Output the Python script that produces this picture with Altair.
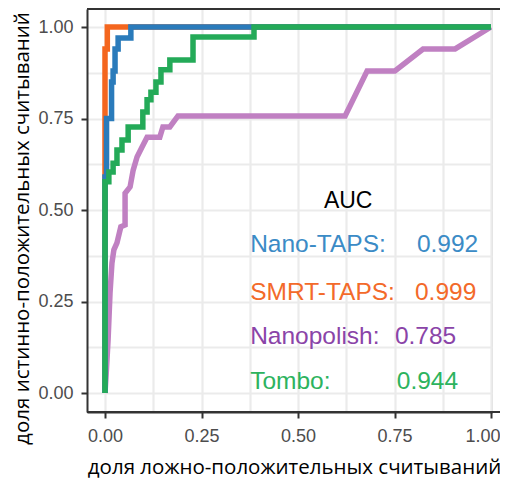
import altair as alt
import pandas as pd

# ---- data ----
series_names = ["SMRT-TAPS", "Nanopolish", "Nano-TAPS", "Tombo"]

smrt_fpr = [0.0, 0.0, 0.006, 0.006, 1.0]
smrt_tpr = [0.0, 0.94, 0.94, 1.0, 1.0]

nano_fpr = [0.0, 0.0, 0.004, 0.004, 0.017, 0.017, 0.021, 0.021, 0.026, 0.026, 0.034, 0.034, 0.067, 0.067, 1.0]
nano_tpr = [0.0, 0.59, 0.59, 0.75, 0.75, 0.85, 0.85, 0.88, 0.88, 0.94, 0.94, 0.97, 0.97, 1.0, 1.0]

polish_fpr = [0.0, 0.003, 0.008, 0.013, 0.018, 0.023, 0.031, 0.041, 0.052, 0.052, 0.065, 0.073, 0.083, 0.096,
              0.109, 0.142, 0.150, 0.168, 0.189, 0.622, 0.679, 0.751, 0.824, 0.907, 1.0]
polish_tpr = [0.0, 0.05, 0.145, 0.273, 0.355, 0.391, 0.41, 0.454, 0.459, 0.546, 0.563, 0.609, 0.645, 0.672,
              0.699, 0.699, 0.727, 0.727, 0.757, 0.757, 0.880, 0.880, 0.940, 0.940, 1.0]

tombo_fpr = [0.0, 0.0, 0.010, 0.010, 0.021, 0.021, 0.031, 0.031, 0.044, 0.044, 0.060, 0.060, 0.098, 0.098,
             0.109, 0.109, 0.119, 0.119, 0.132, 0.132, 0.145, 0.145, 0.168, 0.168, 0.228, 0.228, 0.386, 0.386, 1.0]
tombo_tpr = [0.0, 0.577, 0.577, 0.604, 0.604, 0.628, 0.628, 0.664, 0.664, 0.691, 0.691, 0.727, 0.727, 0.768,
             0.768, 0.801, 0.801, 0.822, 0.822, 0.850, 0.850, 0.883, 0.883, 0.910, 0.910, 0.973, 0.973, 1.0, 1.0]

auc_labels = ["Nano-TAPS:", "SMRT-TAPS:", "Nanopolish:", "Tombo:"]
auc_values = ["0.992", "0.999", "0.785", "0.944"]

tick_values = [0.0, 0.125, 0.25, 0.375, 0.5, 0.625, 0.75, 0.875, 1.0]

# ---- styling ----
line_colors = {"SMRT-TAPS": "#f4661e", "Nanopolish": "#c080c2", "Nano-TAPS": "#2a7bbb", "Tombo": "#24aa58"}
text_colors = ["#3b8bc6", "#f36a2a", "#8a44a8", "#2db35e"]
label_x = [0.376, 0.376, 0.376, 0.376]
value_x = [0.808, 0.803, 0.751, 0.756]
row_y = [0.404, 0.273, 0.153, 0.030]

W, H = 405, 403
PANEL_W = 413  # visible panel frame extends a little past the plot area
xdom = [-18 / 386, (W - 18) / 386]
ydom = [-(403 - 384) / 366, 1 + 18 / 366]

xscale = alt.Scale(domain=xdom, nice=False, zero=False)
yscale = alt.Scale(domain=ydom, nice=False, zero=False)

minor_test = "(datum.value * 4) % 1 != 0"
label_expr = "(datum.value * 4) % 1 == 0 ? format(datum.value, '.2f') : ''"

common_axis = dict(
    values=tick_values,
    labelExpr=label_expr,
    grid=True,
    gridColor="#ebebeb",
    gridWidth=2.2,
    domainColor="#333333",
    domainWidth=2,
    tickColor={"condition": {"test": minor_test, "value": "transparent"}, "value": "#333333"},
    tickWidth=2,
    tickSize=6,
    labelFont="Liberation Sans",
    labelFontSize=18,
    labelColor="#4d4d4d",
    titleFont="Open Sans",
    titleFontSize=20.5,
    titleFontWeight="normal",
    titleColor="#000000",
    labelFlush=False,
)

x_axis = alt.Axis(
    title="доля ложно-положительных считываний",
    labelPadding=9,
    labelAlign={"condition": {"test": "datum.value >= 1", "value": "right"}, "value": "center"},
    labelOffset={"condition": {"test": "datum.value >= 1", "value": 9}, "value": 0},
    titleX=207, titleY=55, titleAlign="center", titleBaseline="middle",
    **common_axis,
)
y_axis = alt.Axis(
    title="доля истинно-положительных считываний",
    labelPadding=8,
    titleX=-65, titleY=219, titleAlign="center", titleBaseline="middle",
    titleAngle=270,
    **common_axis,
)

X = lambda f: alt.X(f, scale=xscale, axis=x_axis)
Y = lambda f: alt.Y(f, scale=yscale, axis=y_axis)


def curve(name, xs, ys):
    df = pd.DataFrame({"fpr": xs, "tpr": ys, "i": list(range(len(xs)))})
    return alt.Chart(df).mark_line(color=line_colors[name], strokeWidth=5.5, clip=True,
                                   strokeCap="butt", strokeJoin="miter").encode(
        x=X("fpr:Q"), y=Y("tpr:Q"), order=alt.Order("i:Q"))


layers = [
    curve("SMRT-TAPS", smrt_fpr, smrt_tpr),
    curve("Nanopolish", polish_fpr, polish_tpr),
    curve("Nano-TAPS", nano_fpr, nano_tpr),
    curve("Tombo", tombo_fpr, tombo_tpr),
]

lab_df = pd.DataFrame({"x": label_x, "y": row_y, "t": auc_labels, "c": text_colors})
val_df = pd.DataFrame({"x": value_x, "y": row_y, "t": auc_values, "c": text_colors})
head_df = pd.DataFrame({"x": [0.630], "y": [0.525], "t": ["AUC"]})

labels = alt.Chart(lab_df).mark_text(align="left", font="Liberation Sans", fontSize=24.5, baseline="middle").encode(
    x=X("x:Q"), y=Y("y:Q"), text="t:N", color=alt.Color("c:N", scale=None))
values = alt.Chart(val_df).mark_text(align="left", font="Liberation Sans", fontSize=24.5, baseline="middle").encode(
    x=X("x:Q"), y=Y("y:Q"), text="t:N", color=alt.Color("c:N", scale=None))
head = alt.Chart(head_df).mark_text(align="center", color="#000000", font="Liberation Sans", fontSize=23,
                                    baseline="middle").encode(
    x=X("x:Q"), y=Y("y:Q"), text="t:N")

top_border = alt.Chart(pd.DataFrame({"a": [0]})).mark_rule(color="#333333", strokeWidth=2).encode(
    x=alt.value(0), x2=alt.value(PANEL_W), y=alt.value(0))
bottom_border = alt.Chart(pd.DataFrame({"a": [0]})).mark_rule(color="#333333", strokeWidth=2).encode(
    x=alt.value(0), x2=alt.value(PANEL_W), y=alt.value(H))

chart = alt.layer(*layers, labels, values, head, top_border, bottom_border).properties(
    width=W, height=H,
    autosize=alt.AutoSizeParams(type="none"),
    padding={"left": 79, "top": 1, "right": 8, "bottom": 68},
).configure_view(stroke=None).configure(background="white")

chart.save("out.html", embed_options={"renderer": "svg", "actions": False})
